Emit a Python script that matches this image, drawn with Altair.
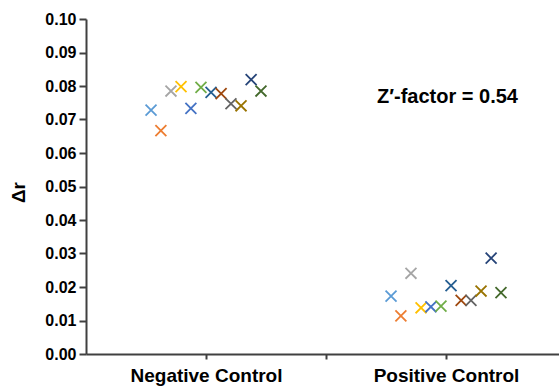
import altair as alt
import pandas as pd

# Delta r readings for the 12 replicate wells of each control
negative_control = [0.0728, 0.0667, 0.0785, 0.0798, 0.0733, 0.0796,
                    0.0781, 0.0777, 0.0747, 0.0741, 0.0819, 0.0785]
positive_control = [0.0173, 0.0114, 0.0241, 0.0138, 0.0141, 0.0143,
                    0.0204, 0.0160, 0.0160, 0.0188, 0.0286, 0.0183]

# horizontal spread of the replicates around each group position
spread = [-0.229, -0.188, -0.146, -0.104, -0.063, -0.021,
          0.021, 0.063, 0.104, 0.146, 0.188, 0.229]
group_pos = {"Negative Control": 1, "Positive Control": 2}

replicate_colors = ["#5B9BD5", "#ED7D31", "#A5A5A5", "#FFC000", "#4472C4", "#70AD47",
                    "#255E91", "#9E480E", "#636363", "#997300", "#264478", "#43682B"]

rows = []
for group, vals in (("Negative Control", negative_control),
                    ("Positive Control", positive_control)):
    for i, v in enumerate(vals):
        rows.append({"group": group, "rep": i + 1,
                     "x": group_pos[group] + spread[i], "dr": v})
df = pd.DataFrame(rows)

FONT = "Liberation Sans"
AXIS_COLOR = "#404040"

x_scale = alt.Scale(domain=[0.5, 2.4708], nice=False, zero=False)
y_scale = alt.Scale(domain=[0, 0.10], nice=False)

x_axis = alt.Axis(
    values=[1, 1.5, 2],
    labelExpr="datum.value == 1 ? 'Negative Control' : datum.value == 2 ? 'Positive Control' : ''",
    title=None, grid=False, tickSize=5, labelPadding=7,
    labelFont=FONT, labelFontSize=19, labelFontWeight="bold", labelColor="black",
    domainColor=AXIS_COLOR, domainWidth=2, tickColor=AXIS_COLOR, tickWidth=2,
    labelOverlap=False,
)
y_axis = alt.Axis(
    values=[i / 100 for i in range(11)], format=".2f",
    title="Δr", titleFont=FONT, titleFontSize=19, titleFontWeight="bold",
    titleColor="black", titleAngle=-90, titleX=-68, titleY=173,
    titleAlign="center", titleBaseline="middle",
    grid=False, tickSize=7, labelPadding=3,
    labelFont=FONT, labelFontSize=16, labelFontWeight="bold", labelColor="black",
    domainColor=AXIS_COLOR, domainWidth=2, tickColor=AXIS_COLOR, tickWidth=2,
)

points = alt.Chart(df).mark_point(
    shape="M-1,-1L1,1M-1,1L1,-1", filled=False, size=120, strokeWidth=1.8, opacity=1
).encode(
    x=alt.X("x:Q", scale=x_scale, axis=x_axis),
    y=alt.Y("dr:Q", scale=y_scale, axis=y_axis),
    color=alt.Color("rep:N", scale=alt.Scale(domain=list(range(1, 13)),
                                             range=replicate_colors), legend=None),
)

label = alt.Chart(pd.DataFrame({"t": ["Z′-factor = 0.54"]})).mark_text(
    font=FONT, fontSize=20, fontWeight="bold", color="black",
    align="left", baseline="alphabetic"
).encode(x=alt.value(291), y=alt.value(84), text="t:N")

chart = alt.layer(points, label).properties(
    width=473, height=335,
    padding={"left": 86, "top": 19, "right": 0, "bottom": 33},
    autosize=alt.AutoSizeParams(type="none"),
    background="white",
).configure_view(stroke=None)

chart.save("out.html", embed_options={"renderer": "svg", "actions": False})
